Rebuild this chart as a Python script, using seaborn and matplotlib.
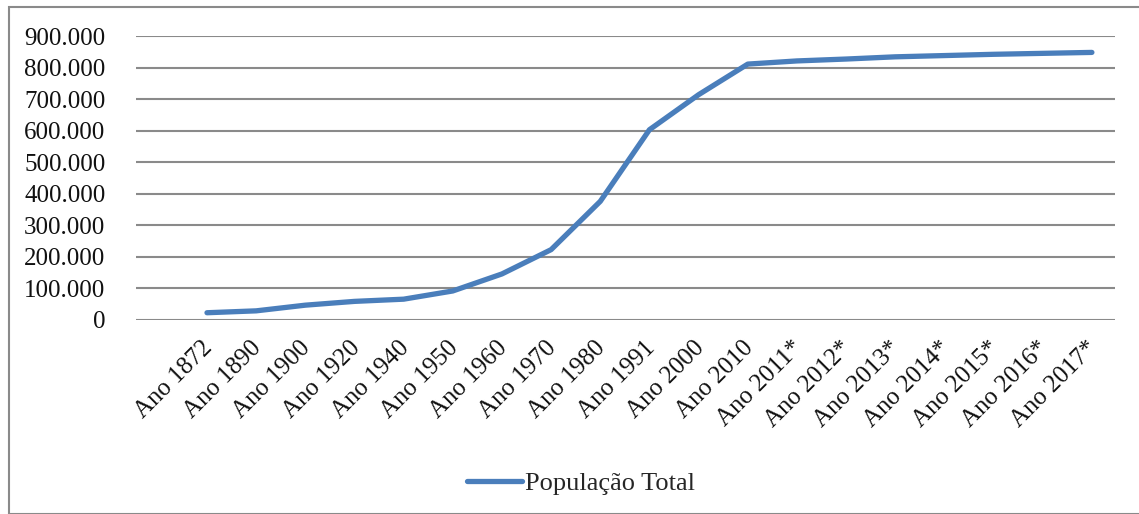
import matplotlib
matplotlib.use("Agg")
import matplotlib.pyplot as plt
import matplotlib.transforms as mtransforms
from matplotlib.patches import Rectangle
from matplotlib.ticker import FuncFormatter
from matplotlib.font_manager import FontProperties
import seaborn as sns
import pandas as pd

# Census years and estimates (*) of total population
anos = ["Ano 1872", "Ano 1890", "Ano 1900", "Ano 1920", "Ano 1940", "Ano 1950",
        "Ano 1960", "Ano 1970", "Ano 1980", "Ano 1991", "Ano 2000", "Ano 2010",
        "Ano 2011*", "Ano 2012*", "Ano 2013*", "Ano 2014*", "Ano 2015*",
        "Ano 2016*", "Ano 2017*"]
populacao = [23000, 29000, 47000, 59000, 66000, 92000,
             146000, 223000, 376000, 603000, 714000, 811000,
             821000, 827000, 834000, 838000, 842000,
             845000, 848000]
serie = "População Total"
y_ticks = [0, 100000, 200000, 300000, 400000, 500000, 600000, 700000, 800000, 900000]

df = pd.DataFrame({"ano": anos, "pop": populacao, "serie": serie})

sns.set_theme(style="white")
plt.rcParams["font.family"] = ["Liberation Serif", "DejaVu Serif"]

W, H = 1139, 514
fig = plt.figure(figsize=(W / 100, H / 100), dpi=100)
fig.patch.set_facecolor("white")

# outer chart frame
fig.patches.append(Rectangle((9 / W, 0), 2.0, 1 - 7 / H, transform=fig.transFigure,
                             fill=False, edgecolor="#8a8a8a", linewidth=1.5, zorder=0))

ax = fig.add_axes([136 / W, 1 - 320 / H, (1115 - 136) / W, (320 - 36) / H])
ax.set_facecolor("white")

line_color = "#4A7EBB"
sns.lineplot(data=df, x="ano", y="pop", hue="serie", palette=[line_color],
             sort=False, linewidth=3.8, ax=ax, legend=False)
for ln in ax.lines:
    ln.set_solid_capstyle("round")
    ln.set_solid_joinstyle("round")

ax.set_ylim(0, 900000)
ax.set_xlim(-1.444, 18.47)
ax.set_yticks(y_ticks)
ax.yaxis.set_major_formatter(FuncFormatter(lambda v, p: f"{int(v):,}".replace(",", ".")))
ax.grid(axis="y", color="#8a8a8a", linewidth=1.5)
ax.grid(axis="x", visible=False)
ax.set_axisbelow(True)
for s in ax.spines.values():
    s.set_visible(False)

ax.tick_params(axis="y", length=0, pad=22, labelsize=18, labelcolor="#111111")
ax.tick_params(axis="x", length=0, pad=6, labelsize=18, labelcolor="#111111")
ax.set_xlabel("")
ax.set_ylabel("")

offset = mtransforms.ScaledTranslation(2 / 100, -16 / 100, fig.dpi_scale_trans)
for lbl in ax.get_xticklabels():
    lbl.set_rotation(45)
    lbl.set_rotation_mode("anchor")
    lbl.set_ha("right")
    lbl.set_va("center")
    lbl.set_transform(lbl.get_transform() + offset)

handle = plt.Line2D([], [], color=line_color, linewidth=3.8, solid_capstyle="round")
fig.legend([handle], [serie], loc="center", bbox_to_anchor=(581 / W, 1 - 483 / H),
           frameon=False, prop=FontProperties(family="Liberation Serif", size=19),
           handlelength=2.1, handletextpad=0.1, borderpad=0)

fig.savefig("out.png", dpi=100, facecolor="white")
